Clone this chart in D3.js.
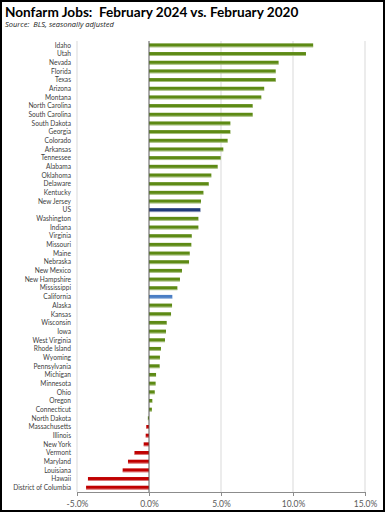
<!DOCTYPE html>
<html>
<head>
<meta charset="utf-8">
<script src="https://cdn.jsdelivr.net/npm/d3@7"></script>
<style>
  html, body { margin: 0; padding: 0; background: #fff; }
  svg { display: block; }
</style>
</head>
<body>
<svg id="chart"></svg>
<script>
// ****************************************
// Data

var states = ["Idaho","Utah","Nevada","Florida","Texas","Arizona","Montana","North Carolina","South Carolina","South Dakota",
  "Georgia","Colorado","Arkansas","Tennessee","Alabama","Oklahoma","Delaware","Kentucky","New Jersey","US",
  "Washington","Indiana","Virginia","Missouri","Maine","Nebraska","New Mexico","New Hampshire","Mississippi","California",
  "Alaska","Kansas","Wisconsin","Iowa","West Virginia","Rhode Island","Wyoming","Pennsylvania","Michigan","Minnesota",
  "Ohio","Oregon","Connecticut","North Dakota","Massachusetts","Illinois","New York","Vermont","Maryland","Louisiana",
  "Hawaii","District of Columbia"];

var changes = [11.4,10.9,9.0,8.8,8.8,8.0,7.8,7.2,7.2,5.65,
  5.65,5.46,5.16,4.98,4.77,4.33,4.15,3.78,3.61,3.57,
  3.43,3.43,2.97,2.94,2.83,2.78,2.29,2.15,1.97,1.62,
  1.60,1.53,1.23,1.18,1.11,0.83,0.76,0.74,0.49,0.46,
  0.40,0.23,0.20,-0.08,-0.19,-0.23,-0.37,-1.01,-1.46,-1.83,
  -4.24,-4.37];

var lossStates = ["Massachusetts","Illinois","New York","Vermont","Maryland","Louisiana","Hawaii","District of Columbia"];

var xTicks = [-5, 0, 5, 10, 15];

// ****************************************
// Setup

var width = 385, height = 512;
var margin = { top: 41, right: 20, bottom: 20, left: 77 };

var svg = d3.select('#chart').attr('width', width).attr('height', height);

var x = d3.scaleLinear().domain([-5, 15]).range([margin.left, 365]);
var y = d3.scaleBand().domain(states).range([margin.top, height - margin.bottom]).paddingInner(0.55).paddingOuter(0.275);

var font = 'Lato, "Open Sans", sans-serif';

// outer frame
svg.append('rect').attr('x', 1).attr('y', 1).attr('width', width - 2).attr('height', height - 2)
  .attr('fill', 'none').attr('stroke', '#000').attr('stroke-width', 2);

// title
svg.append('text').attr('x', 5).attr('y', 16.5).text('Nonfarm Jobs:  February 2024 vs. February 2020')
  .style('white-space', 'pre')
  .style('font-family', font).style('font-weight', 'bold').style('font-size', '13.6px').attr('fill', '#000');
svg.append('text').attr('x', 5).attr('y', 27).text('Source:  BLS, seasonally adjusted')
  .style('white-space', 'pre')
  .style('font-family', '"Open Sans", sans-serif').style('font-style', 'italic').style('font-size', '7.5px').attr('fill', '#222');

// ****************************************
// Gridlines

svg.append('g').selectAll('line').data(xTicks.filter(d => d !== 0)).join('line')
  .attr('x1', d => x(d)).attr('x2', d => x(d))
  .attr('y1', margin.top).attr('y2', height - margin.bottom)
  .attr('stroke', '#d9d9d9').attr('stroke-width', 1);

// ****************************************
// Bars

function barColor(name){
  if(name === 'US') return '#1f3a7a';
  if(name === 'California') return '#4a7ec4';
  if(lossStates.indexOf(name) >= 0) return '#c00000';
  return '#5d8a14';
}

var bars = svg.append('g').selectAll('g').data(states.map((s, i) => ({ name: s, value: changes[i] }))).join('g');

bars.append('rect')
  .attr('x', d => Math.min(x(0), x(d.value)))
  .attr('y', d => y(d.name))
  .attr('width', d => Math.abs(x(d.value) - x(0)))
  .attr('height', y.bandwidth())
  .attr('fill', d => barColor(d.name));

// lighter underside like the Excel shading
bars.append('rect')
  .attr('x', d => Math.min(x(0), x(d.value)))
  .attr('y', d => y(d.name) + y.bandwidth() - 1)
  .attr('width', d => Math.abs(x(d.value) - x(0)))
  .attr('height', 1)
  .attr('fill', '#fff').attr('opacity', 0.45);

// ****************************************
// Category labels

svg.append('g').selectAll('text').data(states).join('text')
  .attr('x', 71).attr('y', d => y(d) + y.bandwidth() / 2)
  .attr('dy', '0.35em').attr('text-anchor', 'end')
  .text(d => d)
  .style('font-family', font).style('font-size', '6.6px').attr('fill', '#404040');

// zero line
svg.append('line').attr('x1', x(0)).attr('x2', x(0))
  .attr('y1', margin.top).attr('y2', height - margin.bottom)
  .attr('stroke', '#595959').attr('stroke-width', 1);

// ****************************************
// X axis

var xAxis = svg.append('g').attr('transform', 'translate(0,' + (height - margin.bottom) + ')')
  .call(d3.axisBottom(x).tickValues(xTicks).tickFormat(d => d.toFixed(1) + '%').tickSizeOuter(0).tickSize(4).tickPadding(5));

xAxis.select('.domain').attr('stroke', '#8c8c8c');
xAxis.selectAll('.tick line').attr('stroke', '#8c8c8c');
xAxis.selectAll('text').style('font-family', font).style('font-size', '8.5px').attr('fill', '#595959');
</script>
</body>
</html>
